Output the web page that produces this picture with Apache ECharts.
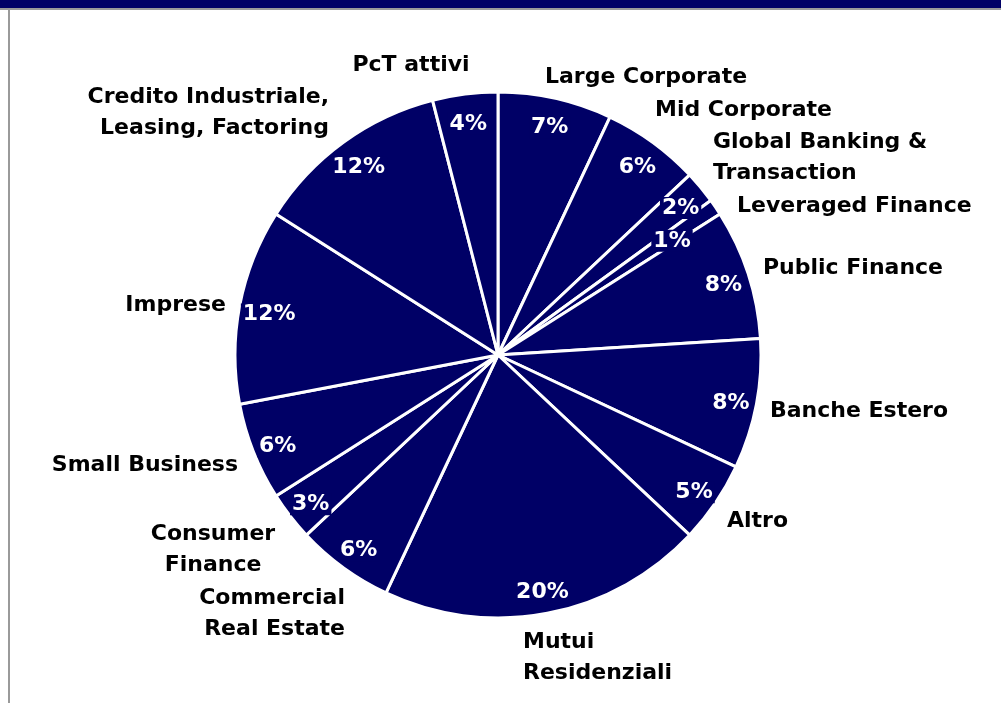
<!DOCTYPE html>
<html>
<head>
<meta charset="utf-8">
<style>
  html, body { margin: 0; padding: 0; background: #ffffff; }
  #chart { width: 1001px; height: 703px; }
</style>
<script src="https://cdn.jsdelivr.net/npm/echarts@6/dist/echarts.min.js"></script>
</head>
<body>
<div id="chart"></div>
<script>
// ---- Data ----
const categories = [
  'Large Corporate',
  'Mid Corporate',
  'Global Banking &\nTransaction',
  'Leveraged Finance',
  'Public Finance',
  'Banche Estero',
  'Altro',
  'Mutui\nResidenziali',
  'Commercial\nReal Estate',
  'Consumer\nFinance',
  'Small Business',
  'Imprese',
  'Credito Industriale,\nLeasing, Factoring',
  'PcT attivi'
];
const shares = [7, 6, 2, 1, 8, 8, 5, 20, 6, 3, 6, 12, 12, 4];

// ---- Layout (label placement only, not data) ----
const NAVY = '#000066';
const nameLabelLayout = [
  { x: 545, y: 77,  align: 'left' },
  { x: 655, y: 110, align: 'left' },
  { x: 713, y: 158, align: 'left' },
  { x: 737, y: 206, align: 'left' },
  { x: 763, y: 268, align: 'left' },
  { x: 770, y: 411, align: 'left' },
  { x: 727, y: 521, align: 'left' },
  { x: 523, y: 658, align: 'left' },
  { x: 345, y: 614, align: 'right' },
  { x: 213, y: 550, align: 'center' },
  { x: 238, y: 465, align: 'right' },
  { x: 226, y: 305, align: 'right' },
  { x: 329, y: 113, align: 'right' },
  { x: 411, y: 65,  align: 'center' }
];
// small nudges of percentage labels (dx, dy)
const pctLabelNudge = { 3: [-22, 19], 11: [4, 4] };

const pieData = categories.map((n, i) => ({ name: n, value: shares[i] }));
const FONT = '"DejaVu Sans", "Liberation Sans", Arial, sans-serif';

const chart = echarts.init(document.getElementById('chart'), null, { renderer: 'canvas' });
chart.setOption({
  backgroundColor: '#ffffff',
  animation: false,
  graphic: [
    { type: 'rect', shape: { x: 0, y: 0, width: 1001, height: 8 }, style: { fill: NAVY }, silent: true },
    { type: 'rect', shape: { x: 0, y: 8, width: 1001, height: 2 }, style: { fill: '#9a9a9a' }, silent: true },
    { type: 'rect', shape: { x: 8, y: 8, width: 2, height: 695 }, style: { fill: '#9a9a9a' }, silent: true },
    { type: 'text', x: 201, y: -21, z: 10, style: { text: '(', fill: '#ffffff', font: 'bold 22px ' + FONT }, silent: true },
    { type: 'text', x: 326, y: -21, z: 10, style: { text: ')', fill: '#ffffff', font: 'bold 22px ' + FONT }, silent: true }
  ],
  series: [
    {
      type: 'pie',
      center: [498, 355],
      radius: 263,
      startAngle: 90,
      clockwise: true,
      silent: true,
      avoidLabelOverlap: false,
      itemStyle: { color: NAVY, borderColor: '#ffffff', borderWidth: 3 },
      label: {
        show: true,
        position: 'outside',
        formatter: '{b}',
        color: '#000000',
        fontFamily: FONT,
        fontWeight: 'bold',
        fontSize: 22,
        lineHeight: 31
      },
      labelLine: { show: false },
      labelLayout: function (params) {
        const p = nameLabelLayout[params.dataIndex];
        return { x: p.x, y: p.y, align: p.align, verticalAlign: 'middle' };
      },
      emphasis: { disabled: true },
      data: pieData
    },
    {
      type: 'pie',
      center: [498, 355],
      radius: [205, 263],
      startAngle: 90,
      clockwise: true,
      silent: true,
      avoidLabelOverlap: false,
      itemStyle: { color: 'rgba(0,0,0,0)', borderWidth: 0 },
      label: {
        show: true,
        position: 'inside',
        formatter: '{c}%',
        color: '#ffffff',
        fontFamily: FONT,
        fontWeight: 'bold',
        fontSize: 22,
        backgroundColor: NAVY,
        padding: [0, 2]
      },
      labelLayout: function (params) {
        const n = pctLabelNudge[params.dataIndex] || [0, 4];
        return { dx: n[0], dy: n[1] };
      },
      labelLine: { show: false },
      emphasis: { disabled: true },
      data: pieData
    }
  ]
});
</script>
</body>
</html>
